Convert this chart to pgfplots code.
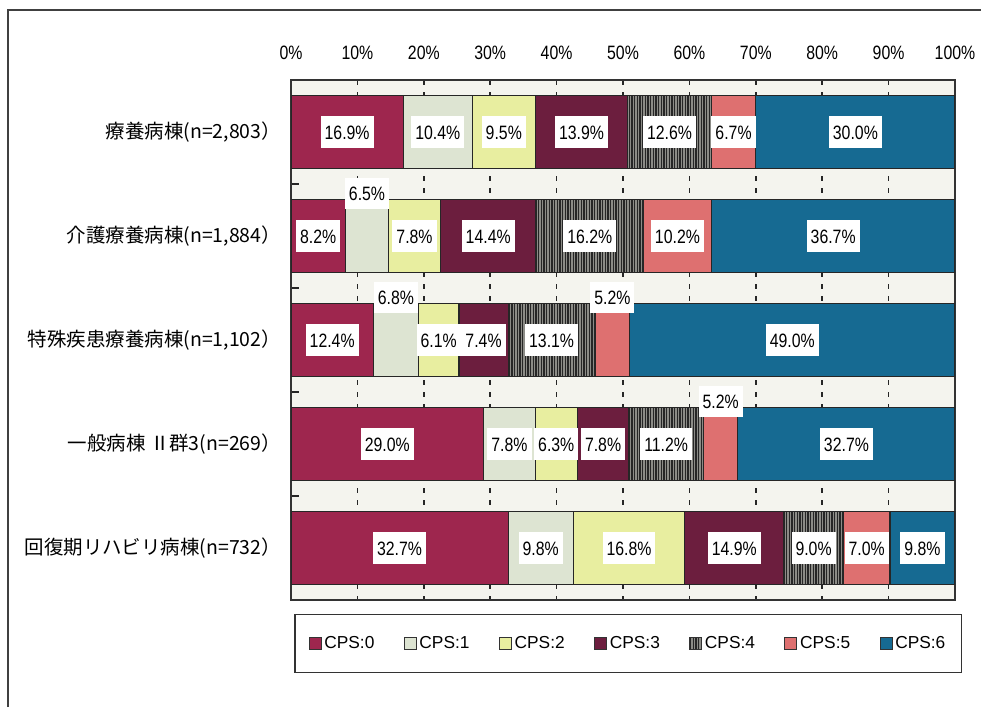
\documentclass[border=0pt]{standalone}
\usepackage{pgfplots}
\pgfplotsset{compat=1.18}
\usepackage{pgfplotstable}
\usetikzlibrary{patterns.meta}
\usepackage{fontspec}
\setmainfont{Liberation Sans}
\newfontfamily\narrowfont[FakeStretch=0.82]{Liberation Sans}
\newfontfamily\cjk{Noto Sans CJK JP}

\definecolor{c0}{RGB}{158,38,78}
\definecolor{c1}{RGB}{221,228,210}
\definecolor{c2}{RGB}{232,238,160}
\definecolor{c3}{RGB}{108,30,62}
\definecolor{c4}{RGB}{140,140,135}
\definecolor{c5}{RGB}{222,112,112}
\definecolor{c6}{RGB}{22,106,146}
\definecolor{bg}{RGB}{244,244,238}

\pgfplotstableread{
y c0 c1 c2 c3 c4 c5 c6 u1 u5 z
0 16.9 10.4 9.5 13.9 12.6 6.7 30.0 0 0 0
1 8.2 6.5 7.8 14.4 16.2 10.2 36.7 1 0 0
2 12.4 6.8 6.1 7.4 13.1 5.2 49.0 1 1 0
3 29.0 7.8 6.3 7.8 11.2 5.2 32.7 0 1 0
4 32.7 9.8 16.8 14.9 9.0 7.0 9.8 0 0 0
}\data

\pgfplotsset{
  seg/.style={draw=black!85, line width=0.9pt},
  up/.style={visualization depends on={\thisrow{#1} \as \up}},
  leg/.style={/pgfplots/legend image code/.code={\draw[##1, line width=0.8pt, draw=black!80] (0pt,-4.5pt) rectangle (9pt,4.5pt);}},
}

\begin{document}
\begin{tikzpicture}[x=1pt,y=1pt]
\path[use as bounding box] (0,0) rectangle (735.75,-530.25);
\begin{axis}[
  at={(218.25pt,-60pt)}, anchor=north west,
  scale only axis, width=498pt, height=390pt,
  xbar stacked, bar width=0.7,
  xmin=0, xmax=100, ymin=-0.5, ymax=4.5, y dir=reverse,
  axis background/.style={fill=bg},
  axis line style={black!80, line width=1.3pt},
  xtick={0,10,...,100},
  xticklabel pos=upper,
  /pgf/number format/assume math mode=true,
  xticklabel={\pgfmathprintnumber{\tick}\%},
  xticklabel style={font=\narrowfont\fontsize{14.5}{16}\selectfont, yshift=12pt},
  ytick={0,1,2,3,4},
  yticklabels={{療養病棟(n=2,803）},{介護療養病棟(n=1,884）},{特殊疾患療養病棟(n=1,102）},{一般病棟 Ⅱ群3(n=269）},{回復期リハビリ病棟(n=732）}},
  yticklabel style={font=\cjk\fontsize{14.6}{16}\selectfont, xshift=-4pt},
  minor ytick={0.5,1.5,2.5,3.5},
  ytick pos=left,
  tick align=inside,
  major tick length=0pt,
  minor tick length=6pt,
  minor tick style={black!85, line width=1pt},
  xmajorgrids,
  major grid style={black!85, line width=1.3pt, dash pattern=on 4pt off 5pt},
  point meta=rawx,
  nodes near coords={\pgfmathprintnumber[fixed,fixed zerofill,precision=1]{\pgfplotspointmeta}\%},
  every node near coord/.append style={anchor=center, yshift=\up*32pt, fill=white, text=black, inner xsep=3pt, inner ysep=6.5pt, text height=10.5pt, text depth=0pt, font=\narrowfont\fontsize{14.5}{16}\selectfont},
  legend style={at={(0.508,-0.0837)}, anchor=center, draw=black!80, line width=1.2pt, fill=white, font=\fontsize{13}{15}\selectfont, inner xsep=10pt, inner ysep=14.5pt, /tikz/every even column/.append style={column sep=20pt}},
  legend columns=7,
]
\addplot[seg, fill=c0, up=z, leg] table[x=c0,y=y]{\data};
\addplot[seg, fill=c1, up=u1, leg] table[x=c1,y=y]{\data};
\addplot[seg, fill=c2, up=z, leg] table[x=c2,y=y]{\data};
\addplot[seg, fill=c3, up=z, leg] table[x=c3,y=y]{\data};
\addplot[seg, fill=c4, postaction={pattern={Lines[angle=90,distance=2pt,line width=0.9pt]}, pattern color=black!85}, up=z, leg] table[x=c4,y=y]{\data};
\addplot[seg, fill=c5, up=u5, leg] table[x=c5,y=y]{\data};
\addplot[seg, fill=c6, up=z, leg] table[x=c6,y=y]{\data};
\legend{CPS:0,CPS:1,CPS:2,CPS:3,CPS:4,CPS:5,CPS:6}
\end{axis}
\draw[line width=1.5pt, black!75] (6,-530.25) -- (6,-7.5) -- (735.75,-7.5);
\end{tikzpicture}
\end{document}
